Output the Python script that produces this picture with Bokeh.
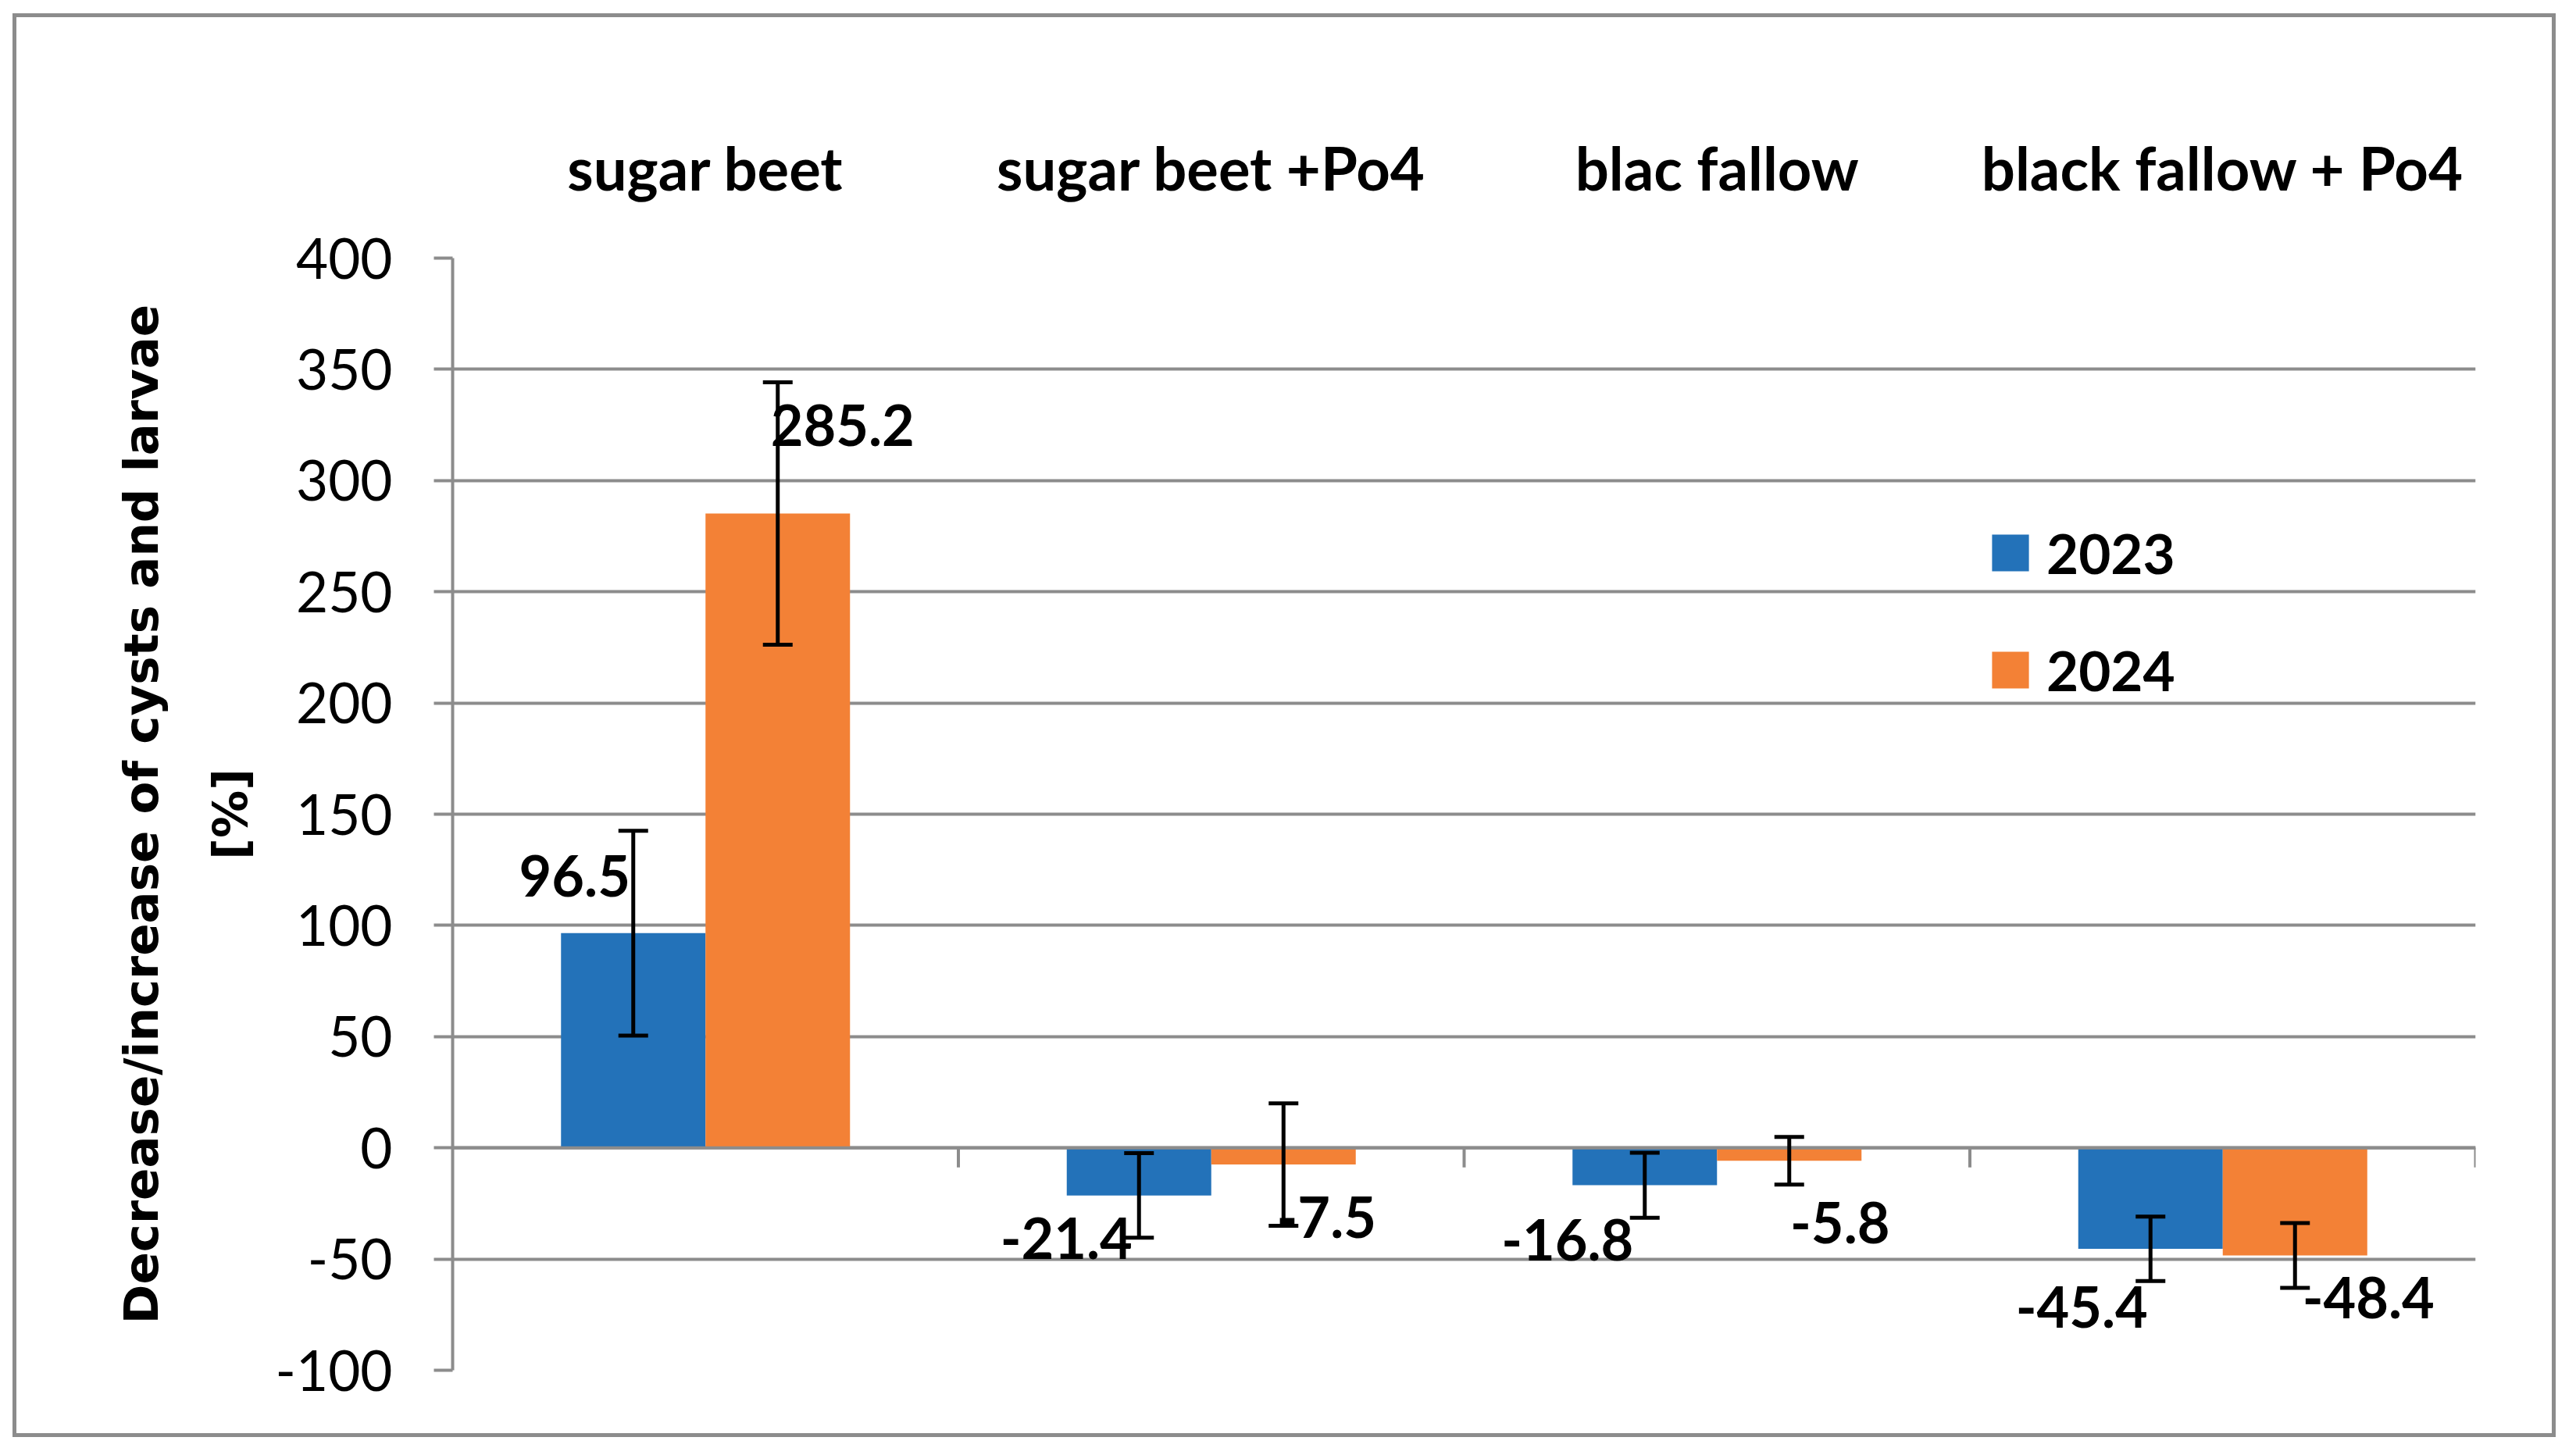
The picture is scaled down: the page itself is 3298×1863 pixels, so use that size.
from bokeh.plotting import figure
from bokeh.models import (ColumnDataSource, FactorRange, Range1d, FixedTicker, Whisker,
                          TeeHead, Legend, LegendItem, Span)
from bokeh.transform import dodge
from bokeh.core.properties import value
from bokeh.embed import file_html
from bokeh.resources import INLINE

# ---- data -------------------------------------------------------------
categories = ["sugar beet", "sugar beet +Po4", "blac fallow", "black fallow + Po4"]
years = ["2023", "2024"]
values_2023 = [96.5, -21.4, -16.8, -45.4]
values_2024 = [285.2, -7.5, -5.8, -48.4]
error_2023 = [46.0, 19.0, 14.6, 14.5]
error_2024 = [59.0, 27.5, 10.7, 14.6]
y_ticks = [-100, -50, 0, 50, 100, 150, 200, 250, 300, 350, 400]

# label placement (pixel offsets from the bar end, as in the original)
label_dx_2023 = [-75, -93, -99, -88]
label_dy_2023 = [-73, 55, 70, 75]
label_dx_2024 = [83, 55, 65, 94]
label_dy_2024 = [-113, 67, 79, 54]

# ---- style ------------------------------------------------------------
BLUE = "#2372B9"
ORANGE = "#F38136"
GRID = "#8c8c8c"
BAR_W = 1 / 3.5          # Excel gap width 150 %
FONT = "Lato"

p = figure(x_range=FactorRange(factors=categories, range_padding=0, factor_padding=0),
           y_range=Range1d(-100, 400),
           width=3256, height=1823,
           output_backend="svg", toolbar_location=None,
           x_axis_location="above",
           min_border_left=558, min_border_right=108,
           min_border_top=308, min_border_bottom=91,
           outline_line_color=None,
           background_fill_color="white", border_fill_color="white",
           margin=(17, 0, 0, 16),
           styles={"border": "5px solid #8c8c8c"})

# grid
p.xgrid.grid_line_color = None
p.ygrid.grid_line_color = GRID
p.ygrid.grid_line_width = 4
p.ygrid.ticker = FixedTicker(ticks=y_ticks)

# y axis
p.yaxis.ticker = FixedTicker(ticks=y_ticks)
p.yaxis.major_label_overrides = {t: str(t) for t in y_ticks}
p.yaxis.axis_line_color = GRID
p.yaxis.axis_line_width = 4
p.yaxis.major_tick_line_color = GRID
p.yaxis.major_tick_line_width = 4
p.yaxis.major_tick_out = 24
p.yaxis.major_tick_in = 0
p.yaxis.minor_tick_line_color = None
p.yaxis.major_label_text_font = FONT
p.yaxis.major_label_text_font_size = "71px"
p.yaxis.major_label_text_color = "black"
p.yaxis.major_label_standoff = 53
p.yaxis.axis_label = "Decrease/increase of cysts and larvae\n[%]"
p.yaxis.axis_label_text_font = "DejaVu Sans"
p.yaxis.axis_label_text_font_style = "bold"
p.yaxis.axis_label_text_font_size = "61px"
p.yaxis.axis_label_text_color = "black"
p.yaxis.axis_label_text_line_height = 1.6
p.yaxis.axis_label_standoff = 20

# x axis (category names above the plot)
p.xaxis.axis_line_color = None
p.xaxis.major_tick_line_color = None
p.xaxis.minor_tick_line_color = None
p.xaxis.major_label_text_font = FONT
p.xaxis.major_label_text_font_style = "bold"
p.xaxis.major_label_text_font_size = "76px"
p.xaxis.major_label_text_color = "black"
p.xaxis.major_label_standoff = 65

# ---- series -----------------------------------------------------------
series = [
    (years[0], values_2023, error_2023, label_dx_2023, label_dy_2023, BLUE, -BAR_W / 2),
    (years[1], values_2024, error_2024, label_dx_2024, label_dy_2024, ORANGE, BAR_W / 2),
]

bar_renderers = []
sources = []
for name, vals, errs, dxs, dys, color, off in series:
    src = ColumnDataSource(dict(
        cat=categories,
        val=vals,
        upper=[v + e for v, e in zip(vals, errs)],
        lower=[v - e for v, e in zip(vals, errs)],
        label=[f"{v:.1f}" for v in vals],
        dx=dxs, dy=dys,
    ))
    sources.append((src, off))
    r = p.vbar(x=dodge("cat", off, range=p.x_range), top="val", bottom=0,
               width=BAR_W, source=src, fill_color=color, line_color=None)
    bar_renderers.append(r)

# zero (category) axis line with tick marks between categories
p.add_layout(Span(location=0, dimension="width", line_color=GRID, line_width=4))
cat_src = ColumnDataSource(dict(cat=categories))
p.segment(x0=dodge("cat", 0.5, range=p.x_range), x1=dodge("cat", 0.5, range=p.x_range),
          y0=0, y1=-8.8, source=cat_src, line_color=GRID, line_width=4)

# data labels
for src, off in sources:
    p.text(x=dodge("cat", off, range=p.x_range), y="val", text="label",
           x_offset="dx", y_offset="dy", source=src,
           text_font=value(FONT), text_font_style="bold", text_font_size="72px",
           text_align="center", text_baseline="middle", text_color="black")

# error bars
for src, off in sources:
    w = Whisker(base=dodge("cat", off, range=p.x_range), upper="upper", lower="lower",
                source=src, line_color="black", line_width=5, level="overlay",
                upper_head=TeeHead(size=38, line_color="black", line_width=5),
                lower_head=TeeHead(size=38, line_color="black", line_width=5))
    p.add_layout(w)

# legend
legend = Legend(items=[LegendItem(label=years[0], renderers=[bar_renderers[0]]),
                       LegendItem(label=years[1], renderers=[bar_renderers[1]])],
                location=(1965, 854), orientation="vertical",
                glyph_width=59, glyph_height=59, label_height=59,
                spacing=65, padding=0, margin=0, label_standoff=17,
                border_line_color=None, background_fill_alpha=0,
                label_text_font=FONT, label_text_font_style="bold",
                label_text_font_size="71px", label_text_color="black")
p.add_layout(legend)

open("out.html", "w").write(file_html(p, INLINE))
